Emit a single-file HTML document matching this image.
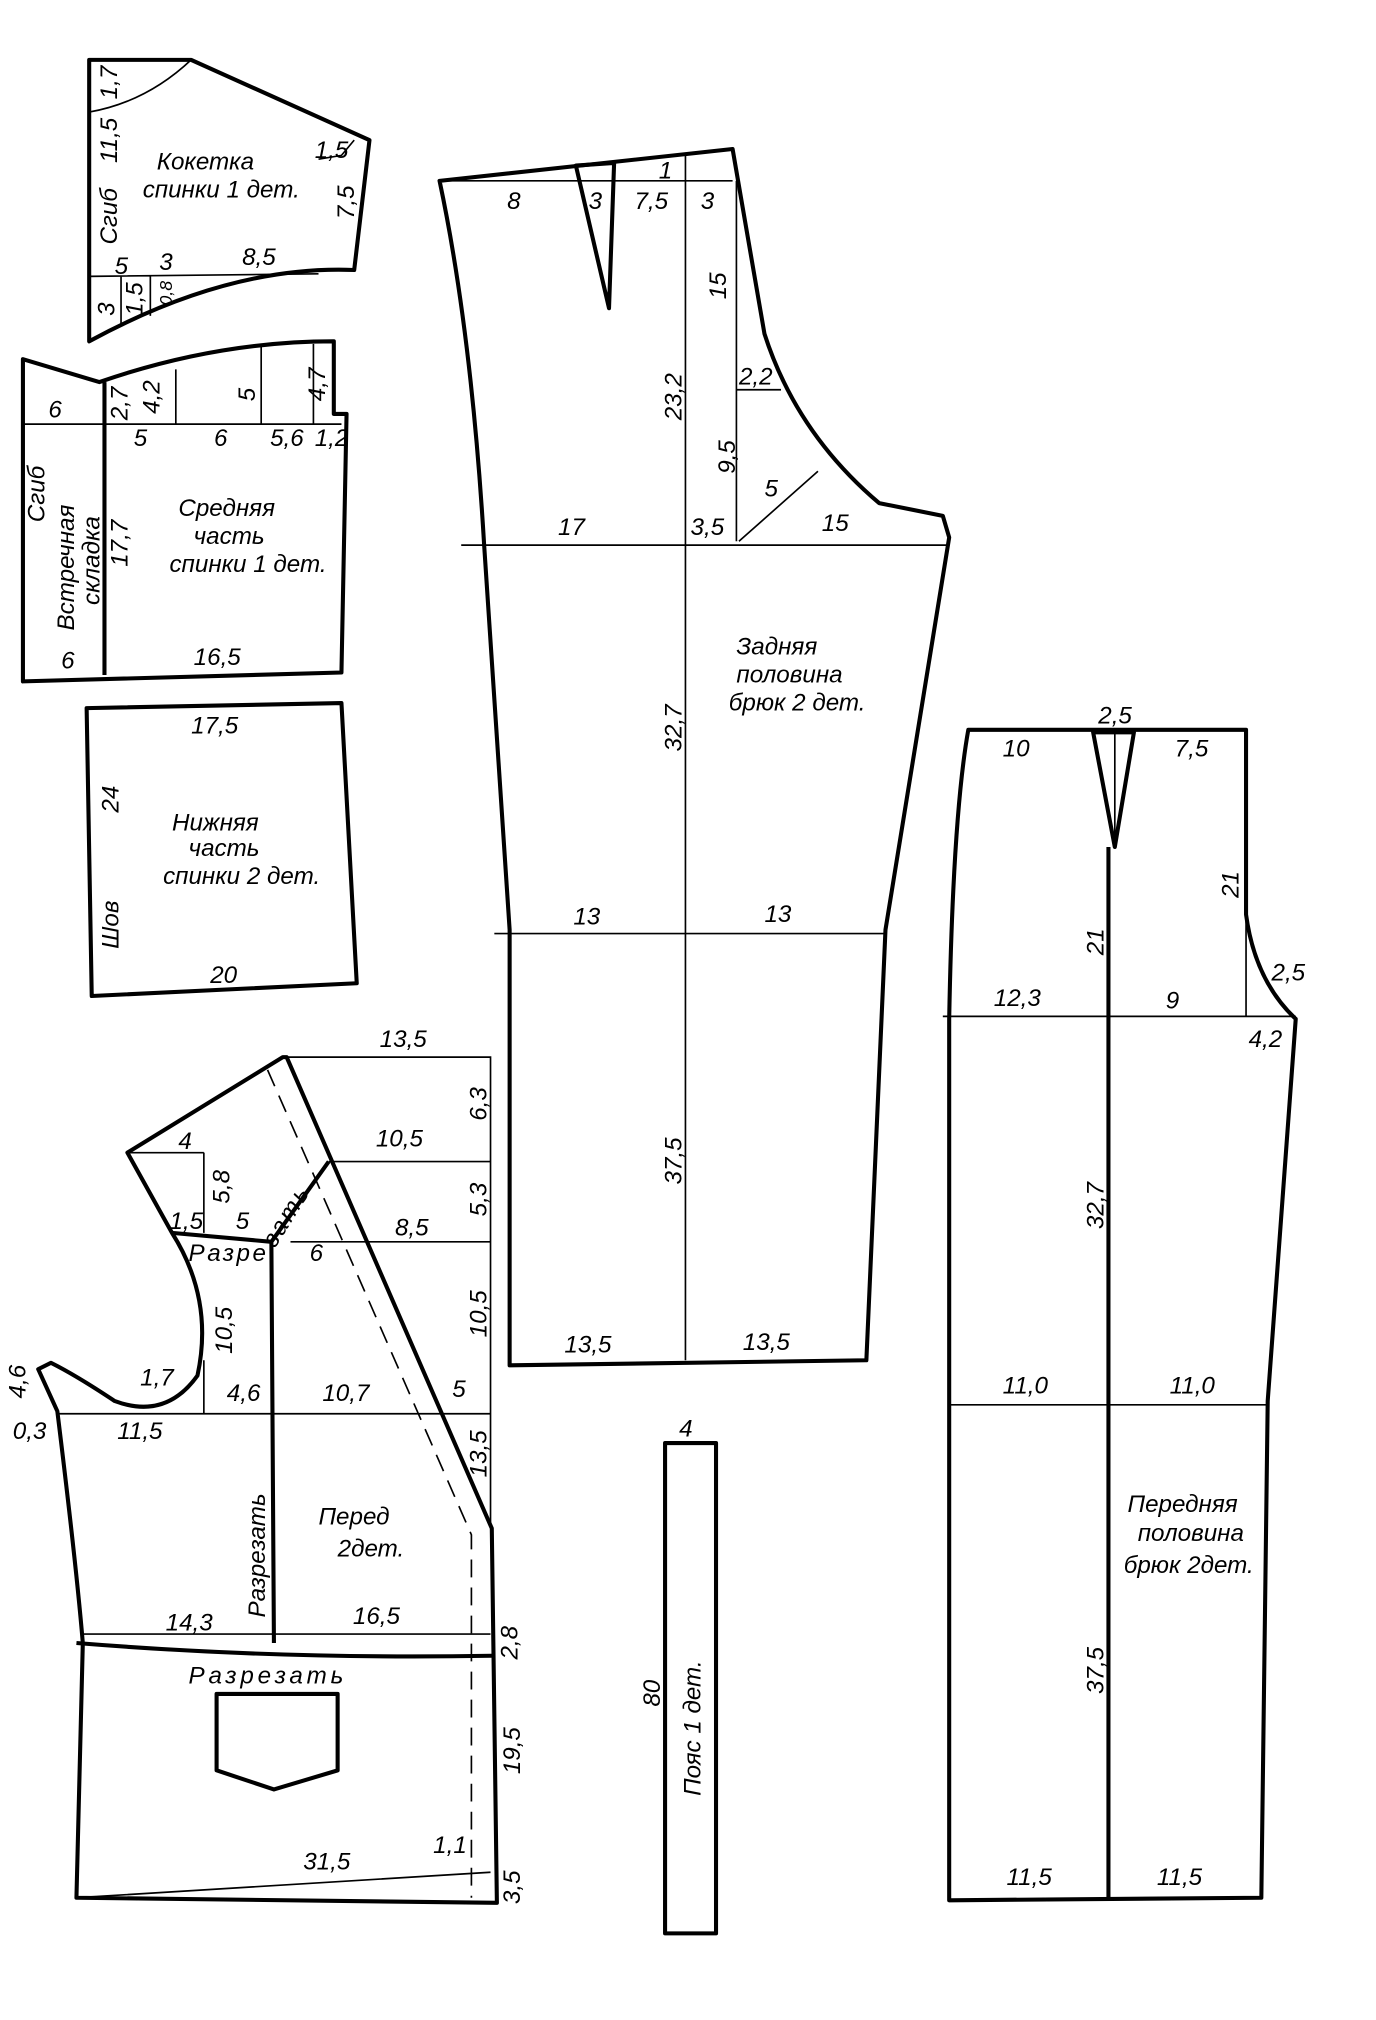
<!DOCTYPE html>
<html><head><meta charset="utf-8"><style>
html,body{margin:0;padding:0;background:#fff}
svg{display:block}
text{font-family:"Liberation Sans",sans-serif;font-style:italic;font-size:19px;fill:#000}
.t{stroke:#000;stroke-width:3.2;fill:none;stroke-linejoin:round}
.n{stroke:#000;stroke-width:1.3;fill:none}
.d{stroke:#000;stroke-width:1.3;fill:none;stroke-dasharray:14 8}
</style></head><body>
<svg width="1376" height="2020" viewBox="0 0 1080 1586" preserveAspectRatio="none" xmlns="http://www.w3.org/2000/svg">
<!-- Кокетка -->
<path class="t" d="M70,47 L150,47 L290,110 L278,212 Q180,208 70,268 Z"/>
<path class="n" d="M70,88 Q115,80 150,47 M70,217 L250,215 M95,217 L95,255 M118,217 L118,248 M278,110 L268,122 L250,125"/>
<text x="123" y="133">Кокетка</text><text x="112" y="155">спинки 1 дет.</text>
<text x="247" y="124">1,5</text><text transform="translate(278,172) rotate(-90)">7,5</text>
<text x="90" y="215">5</text><text x="125" y="212">3</text><text x="190" y="208">8,5</text>
<text transform="translate(92,78) rotate(-90)">1,7</text>
<text transform="translate(92,128) rotate(-90)">11,5</text>
<text transform="translate(92,192) rotate(-90)">Сгиб</text>
<text transform="translate(90,248) rotate(-90)">3</text>
<text transform="translate(112,248) rotate(-90)">1,5</text>
<text transform="translate(135,240) rotate(-90)" style="font-size:14px">0,8</text>
<!-- Средняя часть -->
<path class="t" d="M18,282 L78,300 Q170,268 262,268 L262,325 L272,325 L268,528 L18,535 Z M82,300 L82,530"/>
<path class="n" d="M18,333 L268,333 M138,290 L138,333 M205,272 L205,333 M246,270 L246,333"/>
<text x="38" y="328">6</text><text x="105" y="350">5</text><text x="168" y="350">6</text><text x="212" y="350">5,6</text><text x="247" y="350">1,2</text>
<text transform="translate(100,330) rotate(-90)">2,7</text><text transform="translate(125,325) rotate(-90)">4,2</text>
<text transform="translate(200,315) rotate(-90)">5</text><text transform="translate(255,315) rotate(-90)">4,7</text>
<text x="140" y="405">Средняя</text><text x="152" y="427">часть</text><text x="133" y="449">спинки 1 дет.</text>
<text transform="translate(100,445) rotate(-90)">17,7</text>
<text transform="translate(35,410) rotate(-90)">Сгиб</text>
<text transform="translate(58,495) rotate(-90)">Встречная</text>
<text transform="translate(78,475) rotate(-90)">складка</text>
<text x="48" y="525">6</text><text x="152" y="522">16,5</text>
<!-- Нижняя часть -->
<path class="t" d="M68,556 L268,552 L280,772 L72,782 Z"/>
<text x="150" y="576">17,5</text><text transform="translate(93,638) rotate(-90)">24</text>
<text x="135" y="652">Нижняя</text><text x="148" y="672">часть</text><text x="128" y="694">спинки 2 дет.</text>
<text transform="translate(93,745) rotate(-90)">Шов</text><text x="165" y="772">20</text>
<!-- Задняя половина -->
<path class="t" d="M345,142 L575,117 L600,262 Q625,340 690,395 L740,405 L745,422 L695,730 L680,1068 L400,1072 L400,730 L380,428 Q370,260 345,142 Z"/>
<path class="t" d="M452,130 L482,128 L478,242 Z"/>
<path class="n" d="M538,120 L538,1068 M345,142 L575,142 M578,142 L578,425 M362,428 L745,428 M388,733 L695,733 M580,425 L642,370 M578,306 L613,306"/>
<text x="398" y="164">8</text><text x="462" y="164">3</text><text x="498" y="164">7,5</text><text x="517" y="140">1</text><text x="550" y="164">3</text>
<text transform="translate(570,235) rotate(-90)">15</text><text x="580" y="302">2,2</text>
<text transform="translate(535,330) rotate(-90)">23,2</text><text transform="translate(577,372) rotate(-90)">9,5</text>
<text x="600" y="390">5</text><text x="438" y="420">17</text><text x="542" y="420">3,5</text><text x="645" y="417">15</text>
<text x="578" y="514">Задняя</text><text x="578" y="536">половина</text><text x="572" y="558">брюк 2 дет.</text>
<text transform="translate(535,590) rotate(-90)">32,7</text>
<text x="450" y="726">13</text><text x="600" y="724">13</text>
<text transform="translate(535,930) rotate(-90)">37,5</text>
<text x="443" y="1062">13,5</text><text x="583" y="1060">13,5</text>
<!-- Передняя половина -->
<path class="t" d="M760,573 L978,573 L978,718 Q985,770 1017,800 L995,1100 L990,1490 L745,1492 L745,800 Q748,640 760,573 Z"/>
<path class="t" d="M858,575 L890,575 L875,665 Z M870,665 L870,1490"/>
<path class="n" d="M875,575 L875,665 M740,798 L1017,798 M745,1103 L995,1103 M978,718 L978,798"/>
<text x="862" y="568">2,5</text><text x="787" y="594">10</text><text x="922" y="594">7,5</text>
<text transform="translate(972,705) rotate(-90)">21</text><text transform="translate(866,750) rotate(-90)">21</text>
<text x="998" y="770">2,5</text><text x="780" y="790">12,3</text><text x="915" y="792">9</text><text x="980" y="822">4,2</text>
<text transform="translate(866,965) rotate(-90)">32,7</text>
<text x="787" y="1094">11,0</text><text x="918" y="1094">11,0</text>
<text x="885" y="1187">Передняя</text><text x="893" y="1210">половина</text><text x="882" y="1235">брюк 2дет.</text>
<text transform="translate(866,1330) rotate(-90)">37,5</text>
<text x="790" y="1480">11,5</text><text x="908" y="1480">11,5</text>
<!-- Пояс -->
<path class="t" d="M522,1133 L562,1133 L562,1518 L522,1518 Z"/>
<text x="533" y="1128">4</text>
<text transform="translate(518,1340) rotate(-90)">80</text>
<text transform="translate(550,1410) rotate(-90)">Пояс   1 дет.</text>
<!-- Перед -->
<path class="t" d="M222,830 L100,905 L135,968 Q168,1020 155,1080 Q130,1115 90,1100 Q60,1080 40,1070 L30,1075 L45,1108 Q60,1230 65,1290 L60,1490 L390,1494 L386,1200 L225,830 Z"/>
<path class="t" d="M258,912 L213,975 L215,1290 M135,968 L213,975 M60,1290 Q220,1303 386,1300"/>
<path class="n" d="M222,830 L385,830 L385,1200 M258,912 L385,912 M228,975 L385,975 M45,1110 L385,1110 M65,1283 L385,1283 M100,905 L160,905 M160,905 L160,968 M160,1068 L160,1110 M60,1490 L385,1470"/>
<path class="d" d="M210,840 L370,1205 L370,1490"/>
<path class="t" d="M170,1330 L265,1330 L265,1390 L215,1405 L170,1390 Z"/>
<text x="298" y="822">13,5</text><text x="140" y="902">4</text><text transform="translate(180,945) rotate(-90)">5,8</text>
<text x="295" y="900">10,5</text><text transform="translate(382,880) rotate(-90)">6,3</text>
<text x="133" y="965">1,5</text><text x="185" y="965">5</text><text x="243" y="990">6</text><text x="310" y="970">8,5</text>
<text transform="translate(382,955) rotate(-90)">5,3</text>
<text x="148" y="990" style="letter-spacing:2px">Разре</text>
<text transform="translate(216,980) rotate(-58)" style="letter-spacing:2px">зать</text>
<text transform="translate(182,1063) rotate(-90)">10,5</text><text transform="translate(382,1050) rotate(-90)">10,5</text>
<text x="110" y="1088">1,7</text><text x="178" y="1100">4,6</text><text x="253" y="1100">10,7</text><text x="355" y="1097">5</text>
<text transform="translate(20,1098) rotate(-90)">4,6</text><text x="10" y="1130">0,3</text><text x="92" y="1130">11,5</text>
<text transform="translate(382,1160) rotate(-90)">13,5</text>
<text transform="translate(208,1270) rotate(-90)">Разрезать</text>
<text x="250" y="1197">Перед</text><text x="265" y="1222">2дет.</text>
<text x="130" y="1280">14,3</text><text x="277" y="1275">16,5</text>
<text transform="translate(406,1303) rotate(-90)">2,8</text>
<text x="148" y="1322" style="letter-spacing:3px">Разрезать</text>
<text transform="translate(408,1393) rotate(-90)">19,5</text>
<text x="238" y="1468">31,5</text><text x="340" y="1455">1,1</text>
<text transform="translate(408,1495) rotate(-90)">3,5</text>
</svg>
</body></html>
